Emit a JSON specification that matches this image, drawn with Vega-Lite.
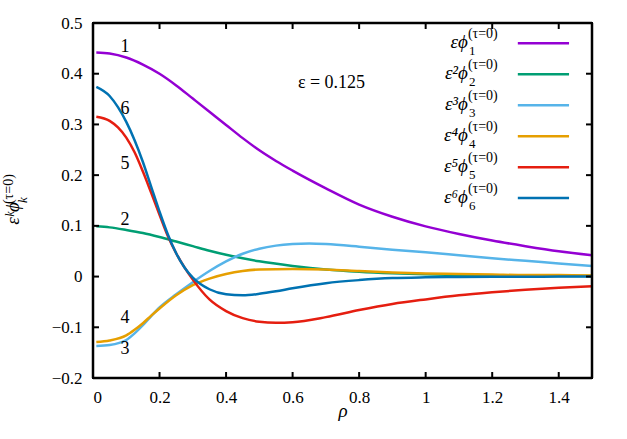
{
  "$schema": "https://vega.github.io/schema/vega-lite/v6.json",
  "width": 499,
  "height": 355,
  "autosize": {"type": "none"},
  "padding": {"left": 93, "top": 23, "right": 35, "bottom": 61},
  "background": "white",
  "config": {
    "view": {"stroke": "#000000", "strokeWidth": 2},
    "font": "Liberation Serif",
    "axis": {"grid": false, "domain": false, "ticks": false, "labelColor": "black", "labelFont": "Liberation Serif", "labelFontSize": 17, "titleFont": "Liberation Serif", "titleColor": "black"}
  },
  "datasets": {
    "curves": [
      {"k":"1","x":0.01,"y":0.442},{"k":"1","x":0.05,"y":0.44},{"k":"1","x":0.1,"y":0.432},{"k":"1","x":0.15,"y":0.418},{"k":"1","x":0.2,"y":0.4},{"k":"1","x":0.25,"y":0.377},{"k":"1","x":0.3,"y":0.351},{"k":"1","x":0.35,"y":0.325},{"k":"1","x":0.4,"y":0.299},{"k":"1","x":0.45,"y":0.273},{"k":"1","x":0.5,"y":0.249},{"k":"1","x":0.55,"y":0.228},{"k":"1","x":0.6,"y":0.209},{"k":"1","x":0.7,"y":0.174},{"k":"1","x":0.8,"y":0.142},{"k":"1","x":0.9,"y":0.118},{"k":"1","x":1.0,"y":0.099},{"k":"1","x":1.1,"y":0.084},{"k":"1","x":1.2,"y":0.071},{"k":"1","x":1.3,"y":0.06},{"k":"1","x":1.4,"y":0.05},{"k":"1","x":1.5,"y":0.042},
      {"k":"2","x":0.01,"y":0.099},{"k":"2","x":0.05,"y":0.097},{"k":"2","x":0.1,"y":0.092},{"k":"2","x":0.15,"y":0.086},{"k":"2","x":0.2,"y":0.078},{"k":"2","x":0.25,"y":0.069},{"k":"2","x":0.3,"y":0.06},{"k":"2","x":0.35,"y":0.051},{"k":"2","x":0.4,"y":0.043},{"k":"2","x":0.45,"y":0.036},{"k":"2","x":0.5,"y":0.03},{"k":"2","x":0.6,"y":0.021},{"k":"2","x":0.7,"y":0.014},{"k":"2","x":0.8,"y":0.0095},{"k":"2","x":0.9,"y":0.0065},{"k":"2","x":1.0,"y":0.0045},{"k":"2","x":1.1,"y":0.003},{"k":"2","x":1.2,"y":0.002},{"k":"2","x":1.3,"y":0.0015},{"k":"2","x":1.4,"y":0.001},{"k":"2","x":1.5,"y":0.001},
      {"k":"3","x":0.01,"y":-0.137},{"k":"3","x":0.05,"y":-0.135},{"k":"3","x":0.1,"y":-0.125},{"k":"3","x":0.125,"y":-0.112},{"k":"3","x":0.15,"y":-0.096},{"k":"3","x":0.175,"y":-0.078},{"k":"3","x":0.2,"y":-0.061},{"k":"3","x":0.25,"y":-0.035},{"k":"3","x":0.3,"y":-0.011},{"k":"3","x":0.35,"y":0.011},{"k":"3","x":0.4,"y":0.03},{"k":"3","x":0.45,"y":0.045},{"k":"3","x":0.5,"y":0.055},{"k":"3","x":0.55,"y":0.061},{"k":"3","x":0.6,"y":0.064},{"k":"3","x":0.65,"y":0.065},{"k":"3","x":0.7,"y":0.064},{"k":"3","x":0.8,"y":0.059},{"k":"3","x":0.9,"y":0.053},{"k":"3","x":1.0,"y":0.048},{"k":"3","x":1.1,"y":0.042},{"k":"3","x":1.2,"y":0.036},{"k":"3","x":1.3,"y":0.031},{"k":"3","x":1.4,"y":0.026},{"k":"3","x":1.5,"y":0.021},
      {"k":"4","x":0.01,"y":-0.129},{"k":"4","x":0.05,"y":-0.126},{"k":"4","x":0.1,"y":-0.116},{"k":"4","x":0.125,"y":-0.105},{"k":"4","x":0.15,"y":-0.092},{"k":"4","x":0.175,"y":-0.077},{"k":"4","x":0.2,"y":-0.063},{"k":"4","x":0.25,"y":-0.037},{"k":"4","x":0.3,"y":-0.017},{"k":"4","x":0.35,"y":-0.004},{"k":"4","x":0.4,"y":0.005},{"k":"4","x":0.45,"y":0.011},{"k":"4","x":0.5,"y":0.014},{"k":"4","x":0.6,"y":0.015},{"k":"4","x":0.7,"y":0.014},{"k":"4","x":0.8,"y":0.011},{"k":"4","x":0.9,"y":0.008},{"k":"4","x":1.0,"y":0.006},{"k":"4","x":1.1,"y":0.005},{"k":"4","x":1.2,"y":0.004},{"k":"4","x":1.3,"y":0.003},{"k":"4","x":1.4,"y":0.003},{"k":"4","x":1.5,"y":0.002},
      {"k":"5","x":0.01,"y":0.315},{"k":"5","x":0.05,"y":0.307},{"k":"5","x":0.075,"y":0.294},{"k":"5","x":0.1,"y":0.274},{"k":"5","x":0.125,"y":0.245},{"k":"5","x":0.15,"y":0.207},{"k":"5","x":0.175,"y":0.165},{"k":"5","x":0.2,"y":0.122},{"k":"5","x":0.225,"y":0.08},{"k":"5","x":0.25,"y":0.046},{"k":"5","x":0.275,"y":0.018},{"k":"5","x":0.3,"y":-0.006},{"k":"5","x":0.35,"y":-0.045},{"k":"5","x":0.4,"y":-0.068},{"k":"5","x":0.45,"y":-0.082},{"k":"5","x":0.5,"y":-0.089},{"k":"5","x":0.55,"y":-0.091},{"k":"5","x":0.6,"y":-0.09},{"k":"5","x":0.7,"y":-0.08},{"k":"5","x":0.8,"y":-0.066},{"k":"5","x":0.9,"y":-0.054},{"k":"5","x":1.0,"y":-0.045},{"k":"5","x":1.1,"y":-0.037},{"k":"5","x":1.2,"y":-0.031},{"k":"5","x":1.3,"y":-0.026},{"k":"5","x":1.4,"y":-0.022},{"k":"5","x":1.5,"y":-0.019},
      {"k":"6","x":0.01,"y":0.374},{"k":"6","x":0.05,"y":0.356},{"k":"6","x":0.075,"y":0.334},{"k":"6","x":0.1,"y":0.305},{"k":"6","x":0.125,"y":0.269},{"k":"6","x":0.15,"y":0.226},{"k":"6","x":0.175,"y":0.177},{"k":"6","x":0.2,"y":0.128},{"k":"6","x":0.225,"y":0.083},{"k":"6","x":0.25,"y":0.046},{"k":"6","x":0.275,"y":0.018},{"k":"6","x":0.3,"y":-0.002},{"k":"6","x":0.35,"y":-0.025},{"k":"6","x":0.4,"y":-0.035},{"k":"6","x":0.45,"y":-0.037},{"k":"6","x":0.5,"y":-0.034},{"k":"6","x":0.55,"y":-0.029},{"k":"6","x":0.6,"y":-0.023},{"k":"6","x":0.7,"y":-0.013},{"k":"6","x":0.8,"y":-0.007},{"k":"6","x":0.9,"y":-0.003},{"k":"6","x":1.0,"y":-0.0015},{"k":"6","x":1.1,"y":-0.0008},{"k":"6","x":1.2,"y":-0.0004},{"k":"6","x":1.3,"y":-0.0002},{"k":"6","x":1.4,"y":-0.0001},{"k":"6","x":1.5,"y":0}
    ],
    "xticks": [{"v":0},{"v":0.2},{"v":0.4},{"v":0.6},{"v":0.8},{"v":1},{"v":1.2},{"v":1.4}],
    "yticks": [{"v":-0.2},{"v":-0.1},{"v":0},{"v":0.1},{"v":0.2},{"v":0.3},{"v":0.4},{"v":0.5}],
    "labels": [
      {"k":"1","x":0.096,"y":0.452},
      {"k":"6","x":0.096,"y":0.33},
      {"k":"5","x":0.096,"y":0.222},
      {"k":"2","x":0.096,"y":0.111},
      {"k":"4","x":0.096,"y":-0.0825},
      {"k":"3","x":0.096,"y":-0.1436}
    ],
    "legend": [
      {"k":"1","main":"εϕ","sub":"1","sup":"(τ=0)","ly":0.46},
      {"k":"2","main":"ε²ϕ","sub":"2","sup":"(τ=0)","ly":0.399},
      {"k":"3","main":"ε³ϕ","sub":"3","sup":"(τ=0)","ly":0.3377},
      {"k":"4","main":"ε⁴ϕ","sub":"4","sup":"(τ=0)","ly":0.2765},
      {"k":"5","main":"ε⁵ϕ","sub":"5","sup":"(τ=0)","ly":0.2154},
      {"k":"6","main":"ε⁶ϕ","sub":"6","sup":"(τ=0)","ly":0.155}
    ],
    "ytitle": [
      {"main":"εᵏϕ","sub":"k","sup":"(τ=0)"}
    ]
  },
  "layer": [
    {
      "data": {"name": "curves"},
      "mark": {"type": "line", "strokeWidth": 2.5, "interpolate": "monotone"},
      "encoding": {
        "x": {"field": "x", "type": "quantitative", "scale": {"domain": [0, 1.5], "nice": false, "zero": false},
              "axis": {"orient": "bottom", "values": [0, 0.2, 0.4, 0.6, 0.8, 1, 1.2, 1.4], "format": "~g", "labelPadding": 11, "title": "ρ", "titleFontSize": 19, "titleFontStyle": "italic", "titleFontWeight": "normal", "titlePadding": -4}},
        "y": {"field": "y", "type": "quantitative", "scale": {"domain": [-0.2, 0.5], "nice": false, "zero": false},
              "axis": {"orient": "left", "values": [-0.2, -0.1, 0, 0.1, 0.2, 0.3, 0.4, 0.5], "format": "~g", "labelPadding": 11, "title": null}},
        "color": {"field": "k", "type": "nominal", "scale": {"domain": ["1","2","3","4","5","6"], "range": ["#9400d3","#009e73","#56b4e9","#e69f00","#e51e10","#0072b2"]}, "legend": null},
        "detail": {"field": "k"}
      }
    },
    {
      "data": {"values": [{"a": -0.2}, {"a": 0.5}]},
      "mark": {"type": "rule", "stroke": "#000000", "strokeWidth": 2.5},
      "encoding": {
        "y": {"field": "a", "type": "quantitative"},
        "x": {"datum": 0, "type": "quantitative"},
        "x2": {"datum": 1.5}
      }
    },
    {
      "data": {"values": [{"b": 0}, {"b": 1.5}]},
      "mark": {"type": "rule", "stroke": "#000000", "strokeWidth": 2.5},
      "encoding": {
        "x": {"field": "b", "type": "quantitative"},
        "y": {"datum": -0.2, "type": "quantitative"},
        "y2": {"datum": 0.5}
      }
    },
    {
      "data": {"name": "xticks"},
      "mark": {"type": "rule", "stroke": "#000000", "strokeWidth": 2},
      "encoding": {
        "x": {"field": "v", "type": "quantitative"},
        "y": {"datum": -0.2, "type": "quantitative"},
        "y2": {"datum": -0.1882}
      }
    },
    {
      "data": {"name": "xticks"},
      "mark": {"type": "rule", "stroke": "#000000", "strokeWidth": 2},
      "encoding": {
        "x": {"field": "v", "type": "quantitative"},
        "y": {"datum": 0.5, "type": "quantitative"},
        "y2": {"datum": 0.4882}
      }
    },
    {
      "data": {"name": "yticks"},
      "mark": {"type": "rule", "stroke": "#000000", "strokeWidth": 2},
      "encoding": {
        "y": {"field": "v", "type": "quantitative"},
        "x": {"datum": 0, "type": "quantitative"},
        "x2": {"datum": 0.018}
      }
    },
    {
      "data": {"name": "yticks"},
      "mark": {"type": "rule", "stroke": "#000000", "strokeWidth": 2},
      "encoding": {
        "y": {"field": "v", "type": "quantitative"},
        "x": {"datum": 1.5, "type": "quantitative"},
        "x2": {"datum": 1.482}
      }
    },
    {
      "data": {"name": "labels"},
      "mark": {"type": "text", "fontSize": 18, "font": "Liberation Serif", "baseline": "middle", "align": "center", "color": "black"},
      "encoding": {
        "x": {"field": "x", "type": "quantitative"},
        "y": {"field": "y", "type": "quantitative"},
        "text": {"field": "k"}
      }
    },
    {
      "data": {"values": [{"t": "ε = 0.125"}]},
      "mark": {"type": "text", "fontSize": 18, "font": "Liberation Serif", "baseline": "middle", "align": "center", "color": "black"},
      "encoding": {
        "x": {"datum": 0.717, "type": "quantitative"},
        "y": {"datum": 0.381, "type": "quantitative"},
        "text": {"field": "t"}
      }
    },
    {
      "data": {"name": "legend"},
      "mark": {"type": "rule", "strokeWidth": 2.5},
      "encoding": {
        "x": {"datum": 1.277, "type": "quantitative"},
        "x2": {"datum": 1.431},
        "y": {"field": "ly", "type": "quantitative"},
        "color": {"field": "k", "type": "nominal", "legend": null}
      }
    },
    {
      "data": {"name": "legend"},
      "mark": {"type": "text", "fontSize": 19, "font": "Liberation Serif", "fontStyle": "italic", "baseline": "alphabetic", "align": "right", "dy": 5, "color": "black"},
      "encoding": {
        "x": {"datum": 1.127, "type": "quantitative"},
        "y": {"field": "ly", "type": "quantitative"},
        "text": {"field": "main"}
      }
    },
    {
      "data": {"name": "legend"},
      "mark": {"type": "text", "fontSize": 13, "font": "Liberation Serif", "baseline": "alphabetic", "align": "left", "dx": 1, "dy": 12, "color": "black"},
      "encoding": {
        "x": {"datum": 1.127, "type": "quantitative"},
        "y": {"field": "ly", "type": "quantitative"},
        "text": {"field": "sub"}
      }
    },
    {
      "data": {"name": "legend"},
      "mark": {"type": "text", "fontSize": 14, "font": "Liberation Serif", "baseline": "alphabetic", "align": "left", "dx": 0, "dy": -5, "color": "black"},
      "encoding": {
        "x": {"datum": 1.127, "type": "quantitative"},
        "y": {"field": "ly", "type": "quantitative"},
        "text": {"field": "sup"}
      }
    },
    {
      "data": {"name": "ytitle"},
      "mark": {"type": "text", "fontSize": 19, "font": "Liberation Serif", "fontStyle": "italic", "baseline": "alphabetic", "align": "right", "angle": 270, "dx": 2, "color": "black"},
      "encoding": {
        "x": {"datum": -0.2224, "type": "quantitative"},
        "y": {"datum": 0.143, "type": "quantitative"},
        "text": {"field": "main"}
      }
    },
    {
      "data": {"name": "ytitle"},
      "mark": {"type": "text", "fontSize": 13, "font": "Liberation Serif", "fontStyle": "italic", "baseline": "alphabetic", "align": "left", "angle": 270, "dx": 1, "dy": 8, "color": "black"},
      "encoding": {
        "x": {"datum": -0.2224, "type": "quantitative"},
        "y": {"datum": 0.143, "type": "quantitative"},
        "text": {"field": "sub"}
      }
    },
    {
      "data": {"name": "ytitle"},
      "mark": {"type": "text", "fontSize": 14, "font": "Liberation Serif", "baseline": "alphabetic", "align": "left", "angle": 270, "dx": 0, "dy": -6, "color": "black"},
      "encoding": {
        "x": {"datum": -0.2224, "type": "quantitative"},
        "y": {"datum": 0.143, "type": "quantitative"},
        "text": {"field": "sup"}
      }
    }
  ]
}
